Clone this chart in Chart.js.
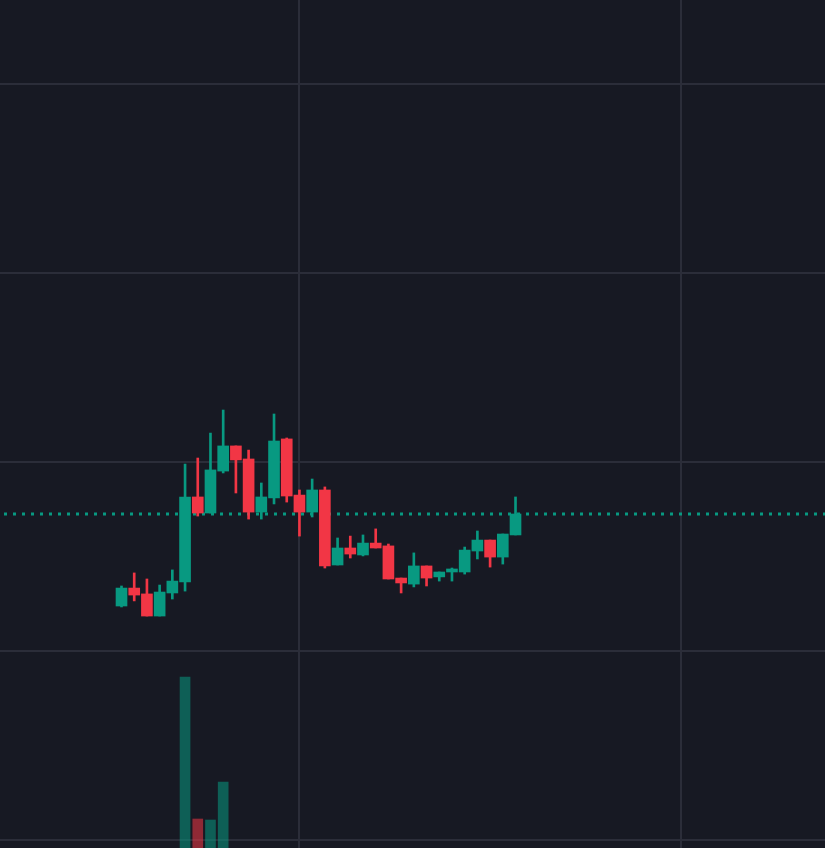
<!DOCTYPE html>
<html>
<head>
<meta charset="utf-8">
<script src="https://cdn.jsdelivr.net/npm/chart.js@4.4.1/dist/chart.umd.min.js"></script>
<style>
  html, body { margin: 0; padding: 0; background: #171923; }
  #wrap { width: 825px; height: 848px; }
</style>
</head>
<body>
<div id="wrap"><canvas id="chart"></canvas></div>
<script>
// candle values (bar index 0..31)
const opens  = [22.38, 23.33, 23.02, 21.85, 23.07, 23.65, 28.15, 27.30, 29.52, 30.85, 30.16, 27.35, 28.10, 31.22, 28.25, 27.35,
                28.52, 24.55, 25.45, 25.08, 25.71, 25.56, 23.86, 23.54, 24.50, 23.92, 24.18, 24.18, 25.29, 25.87, 24.97, 26.14];
const closes = [23.33, 22.96, 21.85, 23.12, 23.70, 28.15, 27.30, 29.58, 30.85, 30.11, 27.35, 28.15, 31.11, 28.20, 27.35, 28.52,
                24.50, 25.45, 25.13, 25.71, 25.45, 23.81, 23.60, 24.50, 23.86, 24.18, 24.34, 25.34, 25.87, 24.97, 26.19, 27.25];
const highs  = [23.44, 24.13, 23.81, 23.49, 24.29, 29.89, 30.21, 31.53, 32.75, 30.85, 30.63, 28.89, 32.54, 31.27, 28.52, 29.10,
                28.68, 25.98, 26.08, 26.14, 26.46, 25.66, 23.86, 25.19, 24.50, 24.18, 24.39, 25.50, 26.35, 25.87, 26.19, 28.15];
const lows   = [22.33, 22.65, 21.85, 21.85, 22.75, 23.17, 27.14, 27.30, 29.42, 28.36, 26.98, 26.98, 27.78, 27.88, 26.08, 27.09,
                24.39, 24.55, 24.92, 25.03, 25.45, 23.81, 23.07, 23.39, 23.44, 23.70, 23.70, 24.07, 24.87, 24.44, 24.60, 26.14];
// only a few volume bars reach into the picture, the rest stay below its lower edge
const volumes = [310, 260, 380, 290, 420, 2230, 810, 800, 1180, 450, 390, 340, 480, 420, 360, 300,
                 440, 280, 220, 200, 180, 260, 230, 210, 190, 170, 160, 240, 230, 210, 260, 350];

const priceTicks = [10, 20, 30, 40, 50];
const timeTicks = [14, 44];

const UP = '#089981';
const DOWN = '#f23645';
const UP_VOL = 'rgba(8, 153, 129, 0.55)';
const DOWN_VOL = 'rgba(242, 54, 69, 0.55)';

const isUp = i => closes[i] >= opens[i];
const lastClose = closes[closes.length - 1];

const bodies = opens.map((o, i) => ({ x: i, y: [o, closes[i]] }));
const wicks = lows.map((l, i) => ({ x: i, y: [l, highs[i]] }));
const vols = volumes.map((v, i) => ({ x: i, y: v }));

const xMin = -9.56, xMax = 55.35;

// dotted line at the last price
const lastLine = [{ x: xMin, y: lastClose }, { x: xMax, y: lastClose }];

const ctx = document.getElementById('chart').getContext('2d');
new Chart(ctx, {
  data: {
    datasets: [
      {
        type: 'line',
        data: lastLine,
        yAxisID: 'y',
        borderColor: UP,
        borderWidth: 3,
        borderDash: [3, 6],
        borderDashOffset: 5,
        borderCapStyle: 'butt',
        pointRadius: 0,
        order: 3
      },
      {
        type: 'bar',
        data: vols,
        yAxisID: 'vol',
        backgroundColor: ctx => isUp(ctx.dataIndex) ? UP_VOL : DOWN_VOL,
        barThickness: 10,
        grouped: false,
        order: 4
      },
      {
        type: 'bar',
        data: wicks,
        yAxisID: 'y',
        backgroundColor: ctx => isUp(ctx.dataIndex) ? UP : DOWN,
        barThickness: 2,
        grouped: false,
        order: 2
      },
      {
        type: 'bar',
        data: bodies,
        yAxisID: 'y',
        backgroundColor: ctx => isUp(ctx.dataIndex) ? UP : DOWN,
        barThickness: 11,
        minBarLength: 1,
        grouped: false,
        order: 1
      }
    ]
  },
  options: {
    responsive: true,
    maintainAspectRatio: false,
    animation: false,
    layout: { padding: 0 },
    plugins: {
      legend: { display: false },
      tooltip: { enabled: false }
    },
    scales: {
      x: {
        type: 'linear',
        min: xMin,
        max: xMax,
        offset: false,
        afterBuildTicks: axis => { axis.ticks = timeTicks.map(v => ({ value: v })); },
        ticks: { display: false },
        grid: { color: '#2b2d39', lineWidth: 2, drawTicks: false, offset: false },
        border: { display: false }
      },
      y: {
        type: 'linear',
        position: 'right',
        min: 9.5767,
        max: 54.444,
        afterBuildTicks: axis => { axis.ticks = priceTicks.map(v => ({ value: v })); },
        ticks: { display: false },
        grid: { color: '#2b2d39', lineWidth: 2, drawTicks: false },
        border: { display: false }
      },
      vol: {
        type: 'linear',
        position: 'left',
        min: 520,
        max: 9000,
        display: false
      }
    }
  }
});
</script>
</body>
</html>
